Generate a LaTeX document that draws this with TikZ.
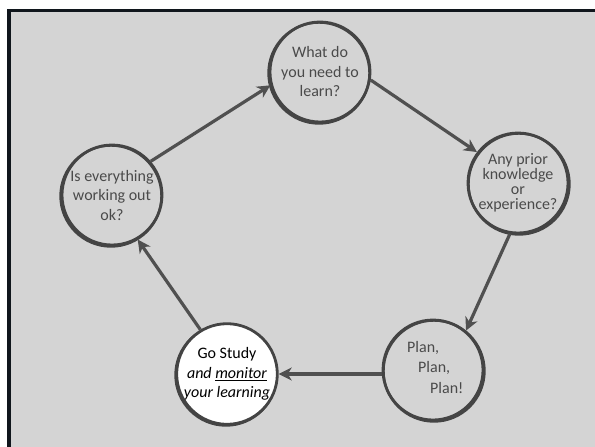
\documentclass[tikz,border=0pt]{standalone}
\usepackage{fontspec}
\setmainfont{Carlito}
\usetikzlibrary{arrows.meta}
\definecolor{bgc}{HTML}{D4D4D4}
\definecolor{ringc}{HTML}{444444}
\definecolor{txtc}{HTML}{4A4A4A}
\definecolor{arrc}{HTML}{505050}
\definecolor{framec}{HTML}{10161C}
\tikzset{
  ring/.style={circle, draw=ringc, line width=2.8pt, minimum size=100pt, inner sep=0pt,
    align=center, text=txtc, font=\fontsize{16}{19.5}\selectfont},
  ringextra/.style={draw=ringc, line width=2.4pt},
  flow/.style={draw=arrc, line width=3.2pt, -{Stealth[length=13pt,width=13pt,inset=4pt]}},
  plantext/.style={anchor=west, text=txtc, font=\fontsize{16}{19.5}\selectfont, inner sep=0pt}
}
\begin{document}
\begin{tikzpicture}[x=1pt,y=-1pt]
\useasboundingbox (0,0) rectangle (595,447);
\fill[white] (0,0) rectangle (595,447);
\fill[bgc] (7,9) rectangle (595,447);
\fill[framec] (7,9) rectangle (10.5,447);
\fill[framec] (7,9) rectangle (595,12);
% extra ring strokes for hand-drawn look
\draw[ringextra] (319,73) circle [radius=50.5];
\draw[ringextra] (519,184) circle [radius=50.5];
\draw[ringextra] (434,371) circle [radius=50.5];
\draw[ringextra] (226,375) circle [radius=50.5];
\draw[ringextra] (111,196) circle [radius=50.5];
\node[ring] (T) at (320,72) {What do\\you need to\\learn?};
\node[ring, font=\fontsize{16}{15}\selectfont] (R) at (518,183) {Any prior\\knowledge\\or\\experience?};
\node[ring] (P) at (433,370) {};
\node[ring, fill=white, text=black] (G) at (227,374) {Go Study\\\textit{and \underline{monitor}}\\\textit{your learning}};
\node[ring] (E) at (112,195) {Is everything\\working out\\ok?};
\node[plantext] (p1) at (407,348) {Plan,};
\node[plantext] (p2) at (418,368) {Plan,};
\node[plantext] (p3) at (430,388) {Plan!};
\draw[flow] (E.41) -- (T.195);
\draw[flow] (T.-9) -- (R.143);
\draw[flow] (R.-99) -- (P.50);
\draw[flow] (P.west |- G.east) -- (G.east);
\draw[flow] (G.121) -- (E.-60);
\end{tikzpicture}
\end{document}
